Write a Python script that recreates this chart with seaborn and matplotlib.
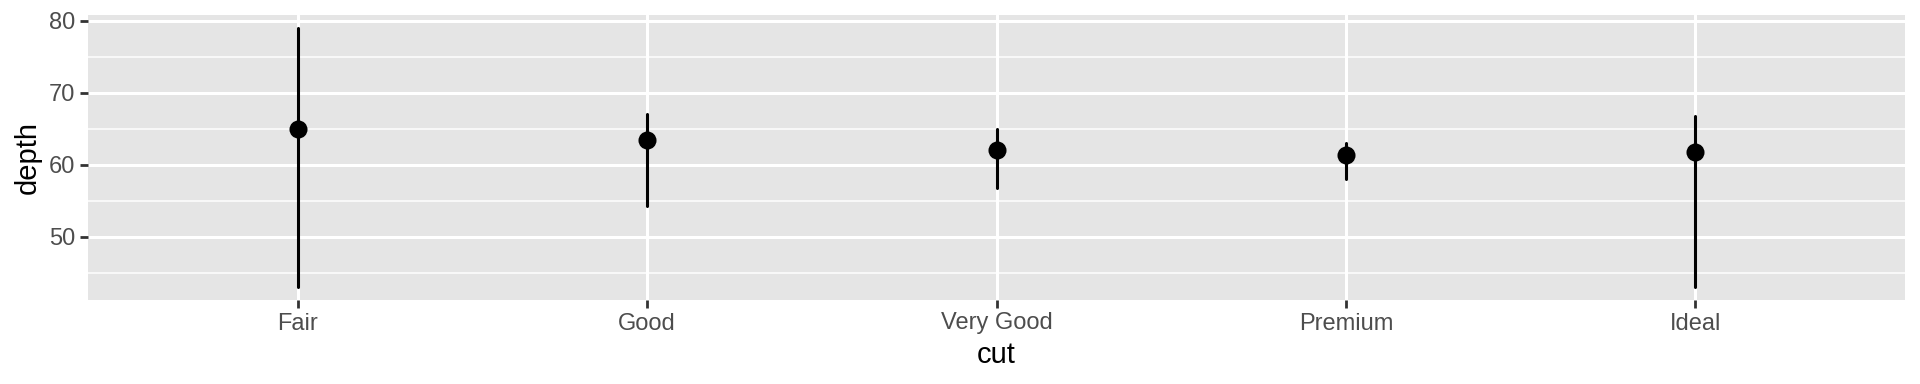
import matplotlib
matplotlib.use("Agg")
import matplotlib.pyplot as plt
import seaborn as sns
import pandas as pd
from matplotlib.ticker import MultipleLocator

cuts = ["Fair", "Good", "Very Good", "Premium", "Ideal"]
depth_min = [43.0, 54.3, 56.8, 58.0, 43.0]
depth_median = [65.0, 63.4, 62.1, 61.4, 61.8]
depth_max = [79.0, 67.0, 64.9, 63.0, 66.7]

rows = []
for c, lo, md, hi in zip(cuts, depth_min, depth_median, depth_max):
    for v in (lo, md, hi):
        rows.append({"cut": c, "depth": v})
df = pd.DataFrame(rows)
df["cut"] = pd.Categorical(df["cut"], categories=cuts, ordered=True)

sns.set_theme(style="darkgrid")
plt.rcParams["font.family"] = ["Liberation Sans", "DejaVu Sans"]

fig = plt.figure(figsize=(19.2, 3.84), dpi=100)
ax = fig.add_axes([88/1920, (384-300)/384, (1905-88)/1920, (300-15)/384])

sns.pointplot(data=df, x="cut", y="depth", estimator="median",
              errorbar=lambda v: (v.min(), v.max()),
              color="black", linestyle="none", markers="o",
              markersize=13, markeredgewidth=0,
              err_kws={"linewidth": 2.2}, ax=ax, zorder=3)

ax.set_facecolor("#E5E5E5")
ax.set_xlim(-0.6, 4.6)
ax.set_ylim(41.2, 80.8)
ax.yaxis.set_major_locator(MultipleLocator(10))
ax.yaxis.set_minor_locator(MultipleLocator(5))
ax.grid(which="major", color="white", linewidth=2.2)
ax.grid(which="minor", axis="y", color="white", linewidth=1.1)
ax.set_axisbelow(True)
for s in ax.spines.values():
    s.set_visible(False)
ax.tick_params(axis="both", which="major", length=5.5, width=2.0, color="#333333",
               labelcolor="#4D4D4D", labelsize=17, pad=3.5, bottom=True, left=True)
ax.tick_params(axis="y", which="minor", length=0, left=False)
ax.set_xlabel("cut", fontsize=21, color="black", labelpad=5)
ax.set_ylabel("depth", fontsize=21, color="black", labelpad=5)

fig.savefig("out.png", dpi=100, facecolor="white")
